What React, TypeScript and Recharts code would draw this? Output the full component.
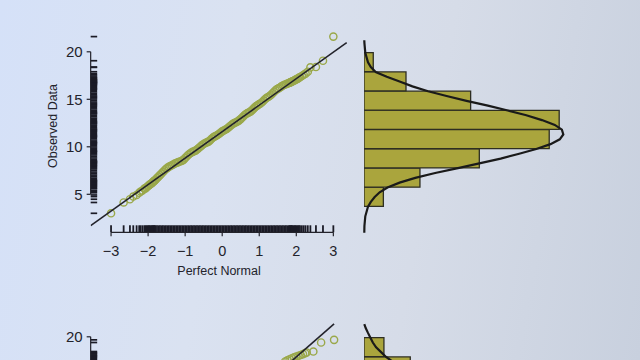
import React from 'react';
import { ComposedChart, Scatter, XAxis, YAxis, Bar } from 'recharts';

const FONT = '"Liberation Sans", Arial, Helvetica, sans-serif';
const INK = '#23232b';
const POINT = '#9aa84a';
const BAR_FILL = '#aaa53d';
const BAR_EDGE = '#2e2e22';
const RUG = '#1b1b26';

// ---------- axis ticks / categories ----------
const xTicks = [-3, -2, -1, 0, 1, 2, 3];
const yTicks = [5, 10, 15, 20];
const yTicksCut = [20];
const binLabels = ['0-2', '2-4', '4-6', '6-8', '8-10', '10-12', '12-14', '14-16', '16-18', '18-20', '20-22'];

// ---------- top panel ----------
const normalQuantiles1 = [
  -3.0, -2.66, -2.49, -2.4, -2.31, -2.24, -2.2, -2.15, -2.1, -2.07, -2.04, -2.01, -1.98, -1.96, -1.93, -1.9, -1.88, -1.86, -1.84, -1.82,
  -1.8, -1.76, -1.72, -1.68, -1.64, -1.6, -1.56, -1.52, -1.48, -1.44,
  -1.4, -1.36, -1.32, -1.28, -1.24, -1.2, -1.16, -1.12, -1.08, -1.04,
  -1.0, -0.96, -0.92, -0.88, -0.84, -0.8, -0.76, -0.72, -0.68, -0.64,
  -0.6, -0.56, -0.52, -0.48, -0.44, -0.4, -0.36, -0.32, -0.28, -0.24,
  -0.2, -0.16, -0.12, -0.08, -0.04, 0.0, 0.04, 0.08, 0.12, 0.16,
  0.2, 0.24, 0.28, 0.32, 0.36, 0.4, 0.44, 0.48, 0.52, 0.56,
  0.6, 0.64, 0.68, 0.72, 0.76, 0.8, 0.84, 0.88, 0.92, 0.96,
  1.0, 1.04, 1.08, 1.12, 1.16, 1.2, 1.24, 1.28, 1.32, 1.36,
  1.4, 1.44, 1.48, 1.52, 1.56, 1.6, 1.64, 1.68, 1.72, 1.76,
  1.8,
  1.82, 1.84, 1.86, 1.88, 1.9, 1.93, 1.96, 1.98, 2.01, 2.04, 2.07, 2.1, 2.15, 2.2, 2.25, 2.31, 2.38, 2.53, 2.72, 3.0,
];
const observed1 = [
  3.0, 4.14, 4.48, 4.76, 4.93, 5.16, 5.3, 5.4, 5.6, 5.62, 5.74, 5.85, 5.92, 6.02, 6.08, 6.18, 6.25, 6.33, 6.4, 6.47,
  6.54, 6.7, 6.86, 7.02, 7.18, 7.34, 7.51, 7.67, 7.78, 7.89,
  7.98, 8.06, 8.14, 8.24, 8.3, 8.36, 8.42, 8.48, 8.54, 8.65,
  8.82, 8.98, 9.14, 9.27, 9.38, 9.47, 9.53, 9.6, 9.71, 9.84,
  9.98, 10.12, 10.25, 10.34, 10.42, 10.49, 10.57, 10.71, 10.87, 11.01,
  11.1, 11.17, 11.27, 11.38, 11.51, 11.62, 11.71, 11.79, 11.88, 12.0,
  12.14, 12.27, 12.4, 12.49, 12.56, 12.63, 12.73, 12.86, 13.0, 13.16,
  13.32, 13.46, 13.54, 13.61, 13.7, 13.83, 13.99, 14.15, 14.28, 14.39,
  14.49, 14.58, 14.71, 14.87, 15.03, 15.16, 15.25, 15.35, 15.48, 15.64,
  15.8, 15.96, 16.07, 16.15, 16.24, 16.36, 16.45, 16.53, 16.59, 16.65,
  16.71,
  16.74, 16.78, 16.82, 16.86, 16.9, 16.96, 17.02, 17.06, 17.12, 17.18, 17.26, 17.33, 17.45, 17.58, 17.7, 17.9, 18.36, 18.4, 19.06, 21.6,
];
const fitX1 = [-3.55, 3.36];
const fitY1 = [1.71, 20.96];
const binDensity1 = [0, 0, 0.0136, 0.0393, 0.081, 0.1301, 0.1371, 0.0749, 0.0295, 0.0065, 0];
const curveValue1 = [1.3, 2, 3, 4, 4.5, 5, 5.5, 6, 6.5, 7, 7.5, 8, 8.5, 9, 9.5, 10, 10.5, 11, 11.5, 12, 12.5, 13, 13.5, 14, 14.5, 15, 15.5, 16, 16.5, 17, 17.5, 18, 18.5, 19, 20, 21, 21.3];
const curveDensity1 = [0.0002, 0.0003, 0.0009, 0.0028, 0.0048, 0.0075, 0.011, 0.0165, 0.025, 0.036, 0.05, 0.066, 0.081, 0.096, 0.109, 0.121, 0.131, 0.1375, 0.14, 0.139, 0.134, 0.125, 0.114, 0.101, 0.087, 0.072, 0.058, 0.045, 0.034, 0.025, 0.016, 0.0082, 0.0048, 0.0028, 0.0009, 0.0003, 0.0002];

// ---------- second panel (cut off at the bottom of the picture) ----------
const normalQuantiles2 = [1.7, 1.76, 1.82, 1.88, 1.94, 2.0, 2.06, 2.12, 2.18, 2.24, 2.28, 2.46, 2.67, 3.02];
const observed2 = [17.4, 17.52, 17.63, 17.74, 17.84, 17.93, 18.0, 18.08, 18.18, 18.28, 18.35, 18.45, 19.4, 19.68];
const fitX2 = [1.0, 3.02];
const fitY2 = [14.46, 21.37];
const binDensity2 = [0, 0.02, 0.05, 0.08, 0.1, 0.11, 0.1, 0.07, 0.0325, 0.014, 0];
const curveValue2 = [14, 15, 16, 17, 18, 18.5, 19, 19.5, 20, 20.5, 21, 21.4];
const curveDensity2 = [0.068, 0.052, 0.038, 0.025, 0.0155, 0.012, 0.0085, 0.0062, 0.0045, 0.0028, 0.0012, 0.0002];

// ---------- layout ----------
const W = 640;
const H = 360;
const QQ = { left: 90.67, right: 348.17, top: 28.05, bottom: 232.3 };
const QQ_X: [number, number] = [-3.55, 3.4];
const QQ_Y: [number, number] = [1, 22.5];
const XAX = { left: 111.05, right: 333.35 };
const YAX = { top: 51.8, bottom: 194.3 };
const HIST = { left: 364, right: 580.4, top: 33.45, bottom: 245.2 };
const HIST_X: [number, number] = [0, 0.152];
const HIST_Y: [number, number] = [0, 22];
const RUG_X_LEN = 7;
const RUG_Y_LEN = 6.5;

const fmt = (v: number) => (v < 0 ? `\u2212${Math.abs(v)}` : String(v));
const abs = { position: 'absolute' as const, left: 0, top: 0 };
const inkLine = { stroke: INK, strokeWidth: 1.2 };
const histMargin = { left: HIST.left, right: W - HIST.right, top: HIST.top, bottom: H - HIST.bottom };

// rug marks drawn as axis ticks (position from the axis scale)
const coordOf = (p: any, fallback: number) =>
  p.payload && typeof p.payload.coordinate === 'number' ? p.payload.coordinate : fallback;
const XRugTick = (p: any) => {
  const c = coordOf(p, p.x);
  return <line x1={c} x2={c} y1={QQ.bottom - RUG_X_LEN} y2={QQ.bottom} stroke={RUG} strokeWidth={1.8} />;
};
const YRugTick = (p: any) => {
  const c = coordOf(p, p.y);
  return <line x1={QQ.left} x2={QQ.left + RUG_Y_LEN} y1={c} y2={c} stroke={RUG} strokeWidth={1.7} />;
};

function Panel(props: {
  top: number;
  quantiles: number[];
  observed: number[];
  fitX: number[];
  fitY: number[];
  density: number[];
  curveV: number[];
  curveD: number[];
  yTickValues: number[];
  full: boolean;
}) {
  const { top, quantiles, observed, fitX, fitY, density, curveV, curveD, yTickValues, full } = props;
  const points = quantiles.map((x, i) => ({ x, y: observed[i] }));
  const fit = fitX.map((x, i) => ({ x, y: fitY[i] }));
  const bins = binLabels.map((bin, i) => ({ bin, d: density[i] }));
  const curve = curveV.map((v, i) => ({ v, d: curveD[i] }));
  return (
    <div style={{ position: 'absolute', left: 0, top, width: W, height: H }}>
      {/* QQ points, fitted line and rugs */}
      <div style={abs}>
        <ComposedChart
          width={W}
          height={H}
          margin={{ left: QQ.left, right: W - QQ.right, top: QQ.top, bottom: H - QQ.bottom }}
        >
          <XAxis
            type="number"
            dataKey="x"
            domain={QQ_X}
            allowDataOverflow
            mirror
            ticks={quantiles}
            interval={0}
            tick={XRugTick}
            axisLine={false}
            tickLine={false}
          />
          <YAxis
            type="number"
            dataKey="y"
            domain={QQ_Y}
            allowDataOverflow
            mirror
            ticks={observed}
            interval={0}
            tick={YRugTick}
            axisLine={false}
            tickLine={false}
          />
          <Scatter
            data={points}
            isAnimationActive={false}
            shape={(p: any) => (
              <circle cx={p.cx} cy={p.cy} r={3.6} fill="none" stroke={POINT} strokeWidth={1.4} />
            )}
          />
          <Scatter
            data={fit}
            isAnimationActive={false}
            line={{ stroke: INK, strokeWidth: 1.6 }}
            lineType="joint"
            shape={() => <g />}
          />
        </ComposedChart>
      </div>

      {/* x axis (vertical layout so the number axis is a value axis) */}
      {full && (
        <div style={abs}>
          <ComposedChart
            layout="vertical"
            width={W}
            height={H}
            margin={{ left: XAX.left, right: W - XAX.right, top: 0, bottom: H - QQ.bottom - 30 }}
          >
            <XAxis
              type="number"
              domain={[-3, 3]}
              allowDataOverflow
              ticks={xTicks}
              interval={0}
              height={30}
              tickSize={4}
              tickMargin={9}
              axisLine={inkLine}
              tickLine={inkLine}
              tick={{ fill: INK, fontSize: 14.5, fontFamily: FONT }}
              tickFormatter={fmt}
            />
            <YAxis hide type="category" />
          </ComposedChart>
        </div>
      )}

      {/* y axis */}
      <div style={abs}>
        <ComposedChart
          width={W}
          height={H}
          margin={{ left: QQ.left - 40, right: 0, top: YAX.top, bottom: H - YAX.bottom }}
        >
          <XAxis hide type="number" domain={[0, 1]} allowDataOverflow />
          <YAxis
            type="number"
            domain={[5, 20]}
            allowDataOverflow
            ticks={yTickValues}
            interval={0}
            width={40}
            tickSize={4}
            tickMargin={4}
            axisLine={inkLine}
            tickLine={inkLine}
            tick={{ fill: INK, fontSize: 15, fontFamily: FONT }}
          />
        </ComposedChart>
      </div>

      {/* histogram bars */}
      <div style={abs}>
        <ComposedChart
          layout="vertical"
          width={W}
          height={H}
          data={bins}
          barCategoryGap={0}
          barGap={0}
          margin={histMargin}
        >
          <XAxis type="number" hide domain={HIST_X} allowDataOverflow />
          <YAxis type="category" dataKey="bin" hide reversed />
          <Bar dataKey="d" fill={BAR_FILL} stroke={BAR_EDGE} strokeWidth={1.3} isAnimationActive={false} />
        </ComposedChart>
      </div>

      {/* density curve */}
      <div style={abs}>
        <ComposedChart width={W} height={H} margin={histMargin}>
          <XAxis type="number" dataKey="d" hide domain={HIST_X} />
          <YAxis type="number" dataKey="v" hide domain={HIST_Y} />
          <Scatter
            data={curve}
            isAnimationActive={false}
            line={{ stroke: '#1a1a1a', strokeWidth: 2.2 }}
            lineType="joint"
            shape={() => <g />}
          />
        </ComposedChart>
      </div>

      {full && (
        <div
          style={{
            position: 'absolute',
            left: 53,
            top: 126,
            transform: 'translate(-50%, -50%) rotate(-90deg)',
            fontFamily: FONT,
            fontSize: 12.5,
            color: INK,
            whiteSpace: 'nowrap',
            lineHeight: 1,
          }}
        >
          Observed Data
        </div>
      )}
      {full && (
        <div
          style={{
            position: 'absolute',
            left: 219,
            top: 270.7,
            transform: 'translate(-50%, -50%)',
            fontFamily: FONT,
            fontSize: 12.5,
            color: INK,
            whiteSpace: 'nowrap',
            lineHeight: 1,
          }}
        >
          Perfect Normal
        </div>
      )}
    </div>
  );
}

export default function App() {
  return (
    <div
      style={{
        position: 'absolute',
        left: 0,
        top: 0,
        width: W,
        height: H,
        overflow: 'hidden',
        background: 'linear-gradient(100deg, #d5e1f8 0%, #dae2f1 35%, #d6dce8 65%, #c8d0de 100%)',
      }}
    >
      <Panel
        top={0}
        quantiles={normalQuantiles1}
        observed={observed1}
        fitX={fitX1}
        fitY={fitY1}
        density={binDensity1}
        curveV={curveValue1}
        curveD={curveDensity1}
        yTickValues={yTicks}
        full
      />
      <Panel
        top={285}
        quantiles={normalQuantiles2}
        observed={observed2}
        fitX={fitX2}
        fitY={fitY2}
        density={binDensity2}
        curveV={curveValue2}
        curveD={curveDensity2}
        yTickValues={yTicksCut}
        full={false}
      />
    </div>
  );
}
